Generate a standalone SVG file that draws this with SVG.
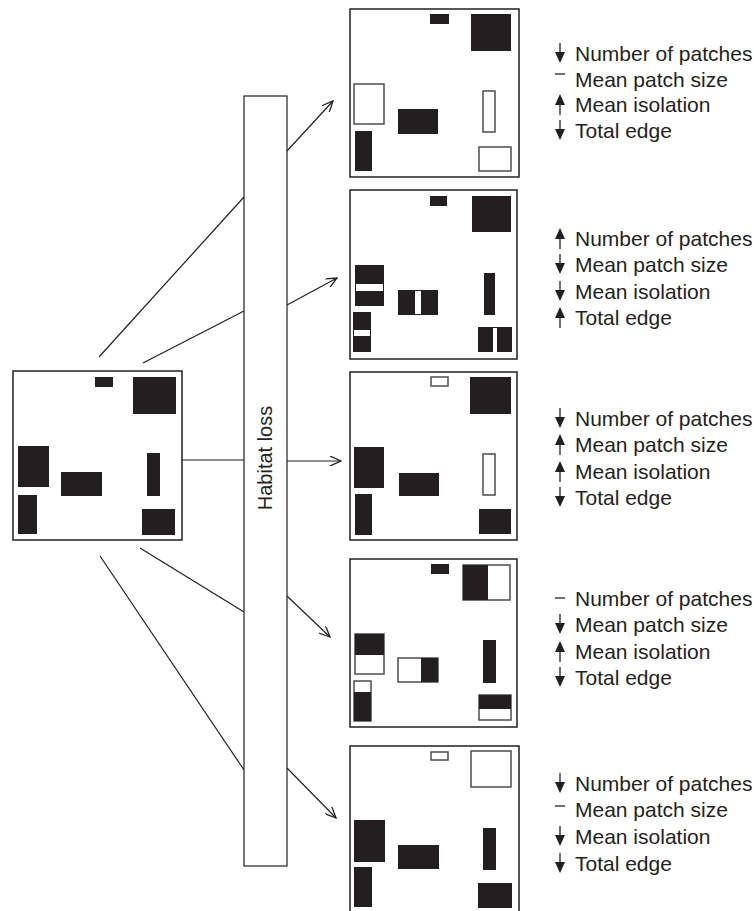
<svg xmlns="http://www.w3.org/2000/svg" width="754" height="911" viewBox="0 0 754 911">
<style>
.frame{fill:#fff;stroke:#231f20;stroke-width:1.5}
.b{fill:#231f20}
.w{fill:#fff}
.o{fill:#fff;stroke:#4d4d4d;stroke-width:1.5}
.con{stroke:#231f20;stroke-width:1.2;fill:none}
.lbl{font-family:"Liberation Sans",Arial,sans-serif;font-size:21px;fill:#231f20}
.bar{fill:#fff;stroke:#231f20;stroke-width:1.2}
.sym line{stroke:#231f20;stroke-width:1.3}
.sym polygon{fill:#231f20}
</style>
<defs>
<marker id="ah" viewBox="0 0 12 10" refX="11" refY="5" markerWidth="12" markerHeight="10" markerUnits="userSpaceOnUse" orient="auto">
<path d="M0,0 L11,5 L0,10" fill="none" stroke="#231f20" stroke-width="1.3"/>
</marker>
<g id="dn" class="sym"><line x1="0" y1="-18" x2="0" y2="-6"/><polygon points="-5,-9 5,-9 0,2"/></g>
<g id="up" class="sym"><line x1="0" y1="-8" x2="0" y2="3"/><polygon points="-5,-7 5,-7 0,-18"/></g>
<g id="ds" class="sym"><line x1="-5" y1="0" x2="5" y2="0"/></g>
</defs>

<g id="connectors">
<line class="con" x1="99" y1="357" x2="244" y2="197"/>
<line class="con" x1="143" y1="363" x2="244" y2="311"/>
<line class="con" x1="182" y1="460" x2="244" y2="460"/>
<line class="con" x1="140" y1="548" x2="244" y2="612"/>
<line class="con" x1="100" y1="556" x2="244" y2="770"/>
<line class="con" x1="287" y1="151" x2="333" y2="101" marker-end="url(#ah)"/>
<line class="con" x1="287" y1="305" x2="337" y2="278" marker-end="url(#ah)"/>
<line class="con" x1="287" y1="461" x2="341" y2="461" marker-end="url(#ah)"/>
<line class="con" x1="287" y1="596" x2="330" y2="637" marker-end="url(#ah)"/>
<line class="con" x1="287" y1="768" x2="336" y2="818" marker-end="url(#ah)"/>
</g>

<g id="habitat-loss">
<rect class="bar" x="244" y="96" width="43" height="770"/>
<text class="lbl" style="font-size:20px" text-anchor="middle" transform="translate(272,458) rotate(-90)">Habitat loss</text>
</g>

<g id="landscape-original">
<rect class="frame" x="13" y="371" width="169" height="169"/>
<rect class="b" x="95" y="377" width="18" height="10"/>
<rect class="b" x="133" y="377" width="43" height="37"/>
<rect class="b" x="18" y="446" width="31" height="41"/>
<rect class="b" x="61" y="472" width="41" height="24"/>
<rect class="b" x="147" y="453" width="13" height="43"/>
<rect class="b" x="18" y="495" width="19" height="39"/>
<rect class="b" x="142" y="509" width="33" height="26"/>
</g>

<g id="panel-1">
<rect class="frame" x="350" y="9" width="169" height="168"/>
<rect class="b" x="430" y="14" width="19" height="10"/>
<rect class="b" x="471" y="14" width="40" height="37"/>
<rect class="o" x="354" y="84" width="30" height="40"/>
<rect class="b" x="398" y="109" width="40" height="25"/>
<rect class="o" x="483" y="91" width="12" height="41"/>
<rect class="b" x="355" y="131" width="17" height="40"/>
<rect class="o" x="479" y="147" width="32" height="24"/>
</g>

<g id="panel-2">
<rect class="frame" x="350" y="190" width="167" height="169"/>
<rect class="b" x="430" y="196" width="17" height="10"/>
<rect class="b" x="472" y="196" width="39" height="36"/>
<rect class="b" x="355" y="265" width="29" height="41"/>
<rect class="w" x="356" y="284" width="27" height="7"/>
<rect class="b" x="398" y="290" width="40" height="25"/>
<rect class="w" x="415" y="291" width="6" height="23"/>
<rect class="b" x="484" y="273" width="11" height="42"/>
<rect class="b" x="353" y="312" width="18" height="40"/>
<rect class="w" x="354" y="330" width="16" height="6"/>
<rect class="b" x="478" y="327" width="34" height="25"/>
<rect class="w" x="493" y="328" width="4" height="24"/>
</g>

<g id="panel-3">
<rect class="frame" x="350" y="372" width="167" height="168"/>
<rect class="o" x="431" y="377" width="17" height="9"/>
<rect class="b" x="470" y="377" width="41" height="37"/>
<rect class="b" x="354" y="447" width="30" height="41"/>
<rect class="b" x="399" y="473" width="40" height="23"/>
<rect class="o" x="483" y="454" width="12" height="41"/>
<rect class="b" x="355" y="494" width="17" height="41"/>
<rect class="b" x="479" y="509" width="32" height="25"/>
</g>

<g id="panel-4">
<rect class="frame" x="350" y="559" width="167" height="168"/>
<rect class="b" x="431" y="564" width="18" height="10"/>
<rect class="o" x="463" y="565" width="47" height="35"/>
<rect class="b" x="463" y="565" width="25" height="35"/>
<rect class="o" x="355" y="634" width="29" height="40"/>
<rect class="b" x="355" y="634" width="29" height="21"/>
<rect class="o" x="398" y="658" width="40" height="24"/>
<rect class="b" x="421" y="658" width="17" height="24"/>
<rect class="b" x="483" y="640" width="13" height="43"/>
<rect class="o" x="354" y="681" width="17" height="40"/>
<rect class="b" x="354" y="692" width="17" height="29"/>
<rect class="o" x="479" y="695" width="32" height="25"/>
<rect class="b" x="479" y="695" width="32" height="14"/>
</g>

<g id="panel-5">
<rect class="frame" x="350" y="746" width="169" height="175"/>
<rect class="o" x="431" y="752" width="17" height="8"/>
<rect class="o" x="471" y="751" width="40" height="36"/>
<rect class="b" x="354" y="820" width="31" height="42"/>
<rect class="b" x="398" y="845" width="41" height="24"/>
<rect class="b" x="483" y="828" width="13" height="42"/>
<rect class="b" x="354" y="867" width="18" height="40"/>
<rect class="b" x="478" y="883" width="34" height="25"/>
</g>

<g id="metrics-1">
<use href="#dn" x="560" y="61"/><text class="lbl" x="575" y="61">Number of patches</text>
<use href="#ds" x="560" y="74"/><text class="lbl" x="575" y="87">Mean patch size</text>
<use href="#up" x="560" y="112"/><text class="lbl" x="575" y="112">Mean isolation</text>
<use href="#dn" x="560" y="138"/><text class="lbl" x="575" y="138">Total edge</text>
</g>
<g id="metrics-2">
<use href="#up" x="560" y="246"/><text class="lbl" x="575" y="246">Number of patches</text>
<use href="#dn" x="560" y="272"/><text class="lbl" x="575" y="272">Mean patch size</text>
<use href="#dn" x="560" y="299"/><text class="lbl" x="575" y="299">Mean isolation</text>
<use href="#up" x="560" y="325"/><text class="lbl" x="575" y="325">Total edge</text>
</g>
<g id="metrics-3">
<use href="#dn" x="560" y="426"/><text class="lbl" x="575" y="426">Number of patches</text>
<use href="#up" x="560" y="452"/><text class="lbl" x="575" y="452">Mean patch size</text>
<use href="#up" x="560" y="479"/><text class="lbl" x="575" y="479">Mean isolation</text>
<use href="#dn" x="560" y="505"/><text class="lbl" x="575" y="505">Total edge</text>
</g>
<g id="metrics-4">
<use href="#ds" x="560" y="598"/><text class="lbl" x="575" y="606">Number of patches</text>
<use href="#dn" x="560" y="632"/><text class="lbl" x="575" y="632">Mean patch size</text>
<use href="#up" x="560" y="659"/><text class="lbl" x="575" y="659">Mean isolation</text>
<use href="#dn" x="560" y="685"/><text class="lbl" x="575" y="685">Total edge</text>
</g>
<g id="metrics-5">
<use href="#dn" x="560" y="791"/><text class="lbl" x="575" y="791">Number of patches</text>
<use href="#ds" x="560" y="806"/><text class="lbl" x="575" y="817">Mean patch size</text>
<use href="#dn" x="560" y="844"/><text class="lbl" x="575" y="844">Mean isolation</text>
<use href="#dn" x="560" y="871"/><text class="lbl" x="575" y="871">Total edge</text>
</g>
</svg>
